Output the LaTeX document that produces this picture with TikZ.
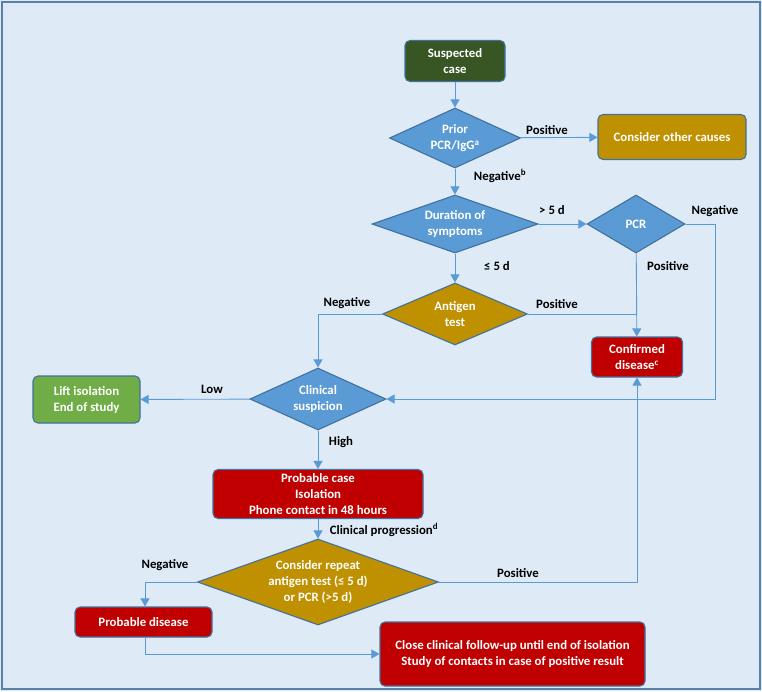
\documentclass[tikz,border=0pt]{standalone}
\usepackage{fontspec}
\setmainfont{Carlito}
\usetikzlibrary{shapes.geometric,arrows.meta}
\definecolor{bgc}{HTML}{DEEBF7}
\definecolor{frame}{HTML}{5A7FA8}
\definecolor{edge}{HTML}{41719C}
\definecolor{lnc}{HTML}{5B9BD5}
\definecolor{dblue}{HTML}{5B9BD5}
\definecolor{dgreen}{HTML}{375623}
\definecolor{lgreen}{HTML}{70AD47}
\definecolor{gold}{HTML}{BF9000}
\definecolor{dred}{HTML}{C00000}
\begin{document}
\begin{tikzpicture}[x=1pt,y=-1pt,
  every node/.style={font=\bfseries\fontsize{12.8}{16}\selectfont},
  boxn/.style={draw=edge,line width=1.1pt,rounded corners=5pt,text=white,align=center,inner sep=0pt},
  dia/.style={diamond,draw=edge,line width=1.1pt,inner sep=0pt},
  dtxt/.style={text=white,align=center,inner sep=0pt},
  lbl/.style={text=black,inner sep=1pt},
  conn/.style={draw=lnc,line width=0.9pt},
  arr/.style={conn,-{Triangle[width=9pt,length=8pt]}}
]
\fill[bgc] (0,0) rectangle (762,691);
\draw[frame,line width=2pt] (1.5,2) rectangle (760,689);

\node[boxn,fill=dgreen,minimum width=100pt,minimum height=41pt] (sus) at (455,61) {Suspected\\case};
\node[dia,fill=dblue,minimum width=131pt,minimum height=60pt] (prior) at (455,138) {};
\node[dtxt] (priort) at (455,138) {Prior\\PCR/IgG\textsuperscript{a}};
\node[boxn,fill=gold,minimum width=148pt,minimum height=45pt] (other) at (672,137) {Consider other causes};
\node[dia,fill=dblue,minimum width=166pt,minimum height=58pt] (dur) at (455,224) {};
\node[dtxt] (durt) at (455,224) {Duration of\\symptoms};
\node[dia,fill=dblue,minimum width=98pt,minimum height=58pt] (pcr) at (636,224) {};
\node[dtxt] (pcrt) at (636,224) {PCR};
\node[dia,fill=gold,minimum width=145pt,minimum height=62pt] (ant) at (455,314) {};
\node[dtxt] (antt) at (455,314) {Antigen\\test};
\node[boxn,fill=dred,minimum width=91pt,minimum height=40pt] (conf) at (637,357) {Confirmed\\disease\textsuperscript{c}};
\node[dia,fill=dblue,minimum width=136pt,minimum height=62pt] (clin) at (318,399) {};
\node[dtxt] (clint) at (318,399) {Clinical\\suspicion};
\node[boxn,fill=lgreen,minimum width=107pt,minimum height=47pt] (lift) at (86.5,399.5) {Lift isolation\\End of study};
\node[boxn,fill=dred,minimum width=210pt,minimum height=49pt] (prob) at (318,494) {Probable case\\Isolation\\Phone contact in 48 hours};
\node[dia,fill=gold,minimum width=241pt,minimum height=86pt] (rep) at (318,582) {};
\node[dtxt] (rept) at (318,582) {Consider repeat\\antigen test (≤ 5 d)\\or PCR (>5 d)};
\node[boxn,fill=dred,minimum width=137pt,minimum height=30pt] (pdis) at (143.5,622) {Probable disease};
\node[boxn,fill=dred,minimum width=265pt,minimum height=64pt] (close) at (512.5,654) {Close clinical follow-up until end of isolation\\Study of contacts in case of positive result};

\coordinate (j1) at (637,314);
\coordinate (pr1) at (715,224);
\coordinate (pr2) at (715,399);
\coordinate (an1) at (318,314);
\coordinate (rp1) at (637,582);
\coordinate (rn1) at (145,582);
\coordinate (pd1) at (145,654);

\draw[arr] (sus) -- (prior);
\draw[arr] (prior) -- (other);
\draw[arr] (prior) -- (dur);
\draw[arr] (dur) -- (pcr);
\draw[arr] (dur) -- (ant);
\draw[arr] (pcr) -- (conf);
\draw[conn] (ant.east) -- (j1);
\draw[arr] (pcr.east) -- (pr1) -- (pr2) -- (clin.east);
\draw[arr] (ant.west) -- (an1) -- (clin.north);
\draw[arr] (clin) -- (lift);
\draw[arr] (clin) -- (prob);
\draw[arr] (prob) -- (rep);
\draw[arr] (rep.east) -- (rp1) -- (conf.south);
\draw[arr] (rep.west) -- (rn1) -- (pdis.north -| rn1);
\draw[arr] (pdis.south -| pd1) -- (pd1) -- (close.west);

\node[lbl] (l1) at (547,130) {Positive};
\node[lbl] (l2) at (500,176) {Negative\textsuperscript{b}};
\node[lbl] (l3) at (552,210) {> 5 d};
\node[lbl] (l4) at (715,211) {Negative};
\node[lbl] (l5) at (668,266) {Positive};
\node[lbl] (l6) at (497,266) {≤ 5 d};
\node[lbl] (l7) at (557,304) {Positive};
\node[lbl] (l8) at (347,303) {Negative};
\node[lbl] (l9) at (212,389) {Low};
\node[lbl] (l10) at (341,442) {High};
\node[lbl] (l11) at (384,530) {Clinical progression\textsuperscript{d}};
\node[lbl] (l12) at (165,565) {Negative};
\node[lbl] (l13) at (518,573) {Positive};
\end{tikzpicture}
\end{document}
